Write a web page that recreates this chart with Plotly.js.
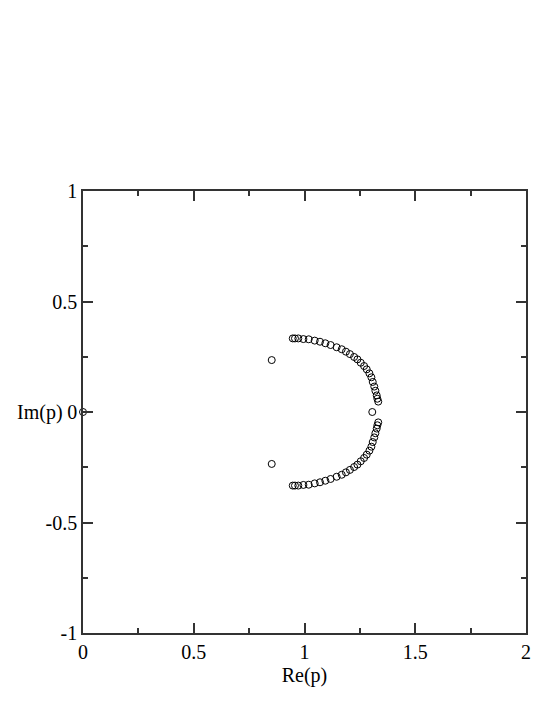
<!DOCTYPE html>
<html>
<head>
<meta charset="utf-8">
<script src="https://cdn.plot.ly/plotly-3.0.1.min.js"></script>
<style>
  body { margin: 0; background: #fff; }
  #plotArea { width: 554px; height: 717px; }
</style>
</head>
<body>
<div id="plotArea"></div>
<script>
// Poles in the complex p plane, upper half
var reUpper = [0.947, 0.957, 0.972, 0.995, 1.019, 1.046, 1.070, 1.094, 1.118, 1.145,
    1.168, 1.187, 1.205, 1.224, 1.239, 1.254, 1.269, 1.281, 1.293, 1.302,
    1.308, 1.315, 1.320, 1.326, 1.329, 1.333];
var imUpper = [0.333, 0.333, 0.333, 0.330, 0.329, 0.323, 0.318, 0.311, 0.303, 0.293,
    0.284, 0.273, 0.262, 0.249, 0.238, 0.223, 0.208, 0.193, 0.175, 0.157,
    0.136, 0.115, 0.096, 0.075, 0.060, 0.047];
// Isolated points
var reExtra = [0.852, 0.852, 1.306, 0];
var imExtra = [0.235, -0.235, 0.0, 0];

// lower half is the mirror image (complex conjugates)
var reAll = reUpper.concat(reUpper, reExtra);
var imAll = imUpper.concat(imUpper.map(v => -v), imExtra);

var serif = "Liberation Serif";

var trace = {
    x: reAll,
    y: imAll,
    mode: "markers",
    type: "scatter",
    marker: {symbol: "circle-open", size: 7, color: "#000", line: {width: 1, color: "#000"}},
    cliponaxis: false,
    hoverinfo: "x+y"
};

function axisStyle() {
    return {
        showgrid: false,
        zeroline: false,
        showline: true,
        linecolor: "#333",
        linewidth: 1.5,
        mirror: "ticks",
        ticks: "inside",
        ticklen: 10,
        tickwidth: 1.5,
        tickcolor: "#333",
        minor: {dtick: 0.25, ticks: "inside", ticklen: 5, tickwidth: 1.5, tickcolor: "#333"},
        tickfont: {family: serif, size: 20, color: "#000"}
    };
}

var xaxis = axisStyle();
xaxis.range = [0, 2];
xaxis.tickvals = [0, 0.5, 1, 1.5, 2];
xaxis.ticktext = ["0", "0.5", "1", "1.5", "2"];
xaxis.title = {text: "Re(p)", font: {family: serif, size: 20, color: "#000"}, standoff: 6};

var yaxis = axisStyle();
yaxis.range = [-1, 1];
yaxis.tickvals = [-1, -0.5, 0, 0.5, 1];
yaxis.ticktext = ["-1", "-0.5", "0", "0.5", "1"];

var layout = {
    width: 554,
    height: 717,
    margin: {l: 83, r: 28, t: 191, b: 84},
    paper_bgcolor: "#fff",
    plot_bgcolor: "#fff",
    showlegend: false,
    font: {family: serif, color: "#000"},
    xaxis: xaxis,
    yaxis: yaxis,
    annotations: [{
        text: "Im(p)",
        xref: "paper", yref: "y",
        x: 0, y: 0,
        xanchor: "right", yanchor: "middle",
        xshift: -18,
        showarrow: false,
        font: {family: serif, size: 20, color: "#000"}
    }]
};

Plotly.newPlot("plotArea", [trace], layout, {displayModeBar: false});
</script>
</body>
</html>
